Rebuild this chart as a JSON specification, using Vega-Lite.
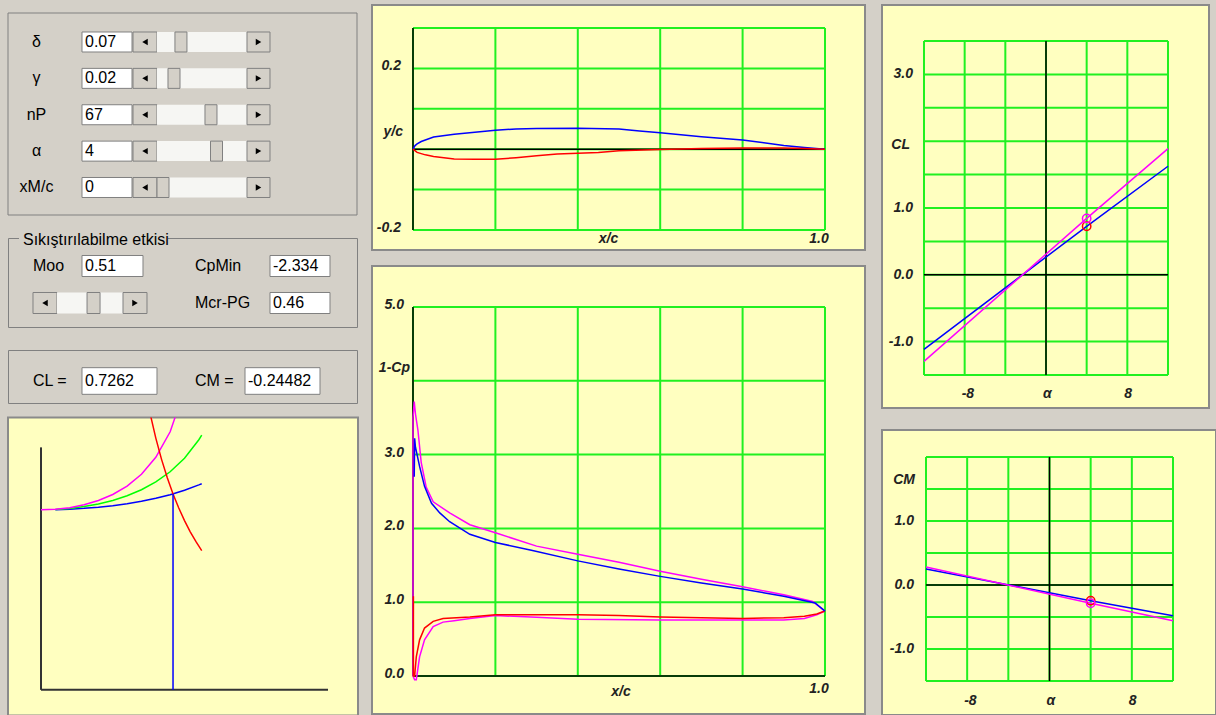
{
"$schema":"https://vega.github.io/schema/vega-lite/v6.json",
"background":"#d4d0c8",
"padding":{"left":7,"top":4,"right":0,"bottom":0},
"config":{"view":{"stroke":null},"axis":{"disable":true},"legend":{"disable":true},"text":{"font":"Liberation Sans"}},
"spacing":15,
"resolve":{"scale":{"color":"independent"}},
"hconcat":[
 {"spacing":12,"resolve":{"scale":{"color":"independent"}},"hconcat":[
  {"spacing":12.5,"resolve":{"scale":{"color":"independent"}},"vconcat":[
   {"spacing":23,"bounds":"flush","resolve":{"scale":{"color":"independent"}},"vconcat":[
     {"width":349,"height":210,
      "data":{"values":[
       {"param":"δ","value":"0.07","pos":0.23},
       {"param":"γ","value":"0.02","pos":0.141},
       {"param":"nP","value":"67","pos":0.615},
       {"param":"α","value":"4","pos":0.686},
       {"param":"xM/c","value":"0","pos":0}
      ]},
      "resolve":{"scale":{"y":"independent"}},
      "layer":[
       {"data":{"values":[{}]},
        "mark":{"type":"rect","fill":"transparent","stroke":"#808080","strokeWidth":1},
        "encoding":{"x":{"datum":-1.9872,"type":"quantitative","scale":{"domain":[-1.9872,2.4872],"nice":false,"zero":false}},"x2":{"datum":2.4872},"y":{"datum":0,"type":"quantitative","scale":{"domain":[0,1],"nice":false,"zero":false}},"y2":{"datum":0.9619}}},
       {"layer":[
       {"mark":{"type":"text","fontSize":16,"align":"center","baseline":"middle","color":"#000000"},
        "encoding":{"x":{"datum":-1.6218,"type":"quantitative","scale":{"domain":[-1.9872,2.4872],"nice":false,"zero":false}},"y":{"field":"param","type":"nominal","bandPosition":0.5,"scale":{"type":"band","domain":["δ","γ","nP","α","xM/c"],"paddingInner":0.4502,"paddingOuter":0.6117,"align":0.6067,"round":false}},"text":{"field":"param"}}},
       {"mark":{"type":"rect","fill":"#ffffff","stroke":"#808080","strokeWidth":1},
        "encoding":{"x":{"datum":-1.0385,"type":"quantitative","scale":{"domain":[-1.9872,2.4872],"nice":false,"zero":false}},"x2":{"datum":-0.3974},"y":{"field":"param","type":"nominal","scale":{"type":"band","domain":["δ","γ","nP","α","xM/c"],"paddingInner":0.4502,"paddingOuter":0.6117,"align":0.6067,"round":false}}}},
       {"mark":{"type":"text","fontSize":16,"align":"left","baseline":"middle","color":"#000000"},
        "encoding":{"x":{"datum":-1.0,"type":"quantitative","scale":{"domain":[-1.9872,2.4872],"nice":false,"zero":false}},"y":{"field":"param","type":"nominal","bandPosition":0.5,"scale":{"type":"band","domain":["δ","γ","nP","α","xM/c"],"paddingInner":0.4502,"paddingOuter":0.6117,"align":0.6067,"round":false}},"text":{"field":"value"}}},
       {"mark":{"type":"rect","fill":"#d4d0c8","stroke":"#808080","strokeWidth":1},
        "encoding":{"x":{"datum":-0.3846,"type":"quantitative","scale":{"domain":[-1.9872,2.4872],"nice":false,"zero":false}},"x2":{"datum":-0.0769},"y":{"field":"param","type":"nominal","scale":{"type":"band","domain":["δ","γ","nP","α","xM/c"],"paddingInner":0.4502,"paddingOuter":0.6117,"align":0.6067,"round":false}}}},
       {"mark":{"type":"rect","fill":"#f6f6f3"},
        "encoding":{"x":{"datum":-0.0769,"type":"quantitative","scale":{"domain":[-1.9872,2.4872],"nice":false,"zero":false}},"x2":{"datum":1.0769},"y":{"field":"param","type":"nominal","scale":{"type":"band","domain":["δ","γ","nP","α","xM/c"],"paddingInner":0.4502,"paddingOuter":0.6117,"align":0.6067,"round":false}}}},
       {"mark":{"type":"rect","fill":"#d4d0c8","stroke":"#808080","strokeWidth":1},
        "encoding":{"x":{"datum":1.0769,"type":"quantitative","scale":{"domain":[-1.9872,2.4872],"nice":false,"zero":false}},"x2":{"datum":1.3718},"y":{"field":"param","type":"nominal","scale":{"type":"band","domain":["δ","γ","nP","α","xM/c"],"paddingInner":0.4502,"paddingOuter":0.6117,"align":0.6067,"round":false}}}},
       {"mark":{"type":"rect","width":12,"fill":"#d4d0c8","stroke":"#808080","strokeWidth":1},
        "encoding":{"x":{"field":"pos","type":"quantitative","scale":{"domain":[-1.9872,2.4872],"nice":false,"zero":false}},"y":{"field":"param","type":"nominal","scale":{"type":"band","domain":["δ","γ","nP","α","xM/c"],"paddingInner":0.4502,"paddingOuter":0.6117,"align":0.6067,"round":false}}}},
       {"mark":{"type":"point","shape":"triangle-left","size":40,"filled":true,"color":"#000000","opacity":1},
        "encoding":{"x":{"datum":-0.2308,"type":"quantitative","scale":{"domain":[-1.9872,2.4872],"nice":false,"zero":false}},"y":{"field":"param","type":"nominal","bandPosition":0.5,"scale":{"type":"band","domain":["δ","γ","nP","α","xM/c"],"paddingInner":0.4502,"paddingOuter":0.6117,"align":0.6067,"round":false}}}},
       {"mark":{"type":"point","shape":"triangle-right","size":40,"filled":true,"color":"#000000","opacity":1},
        "encoding":{"x":{"datum":1.2244,"type":"quantitative","scale":{"domain":[-1.9872,2.4872],"nice":false,"zero":false}},"y":{"field":"param","type":"nominal","bandPosition":0.5,"scale":{"type":"band","domain":["δ","γ","nP","α","xM/c"],"paddingInner":0.4502,"paddingOuter":0.6117,"align":0.6067,"round":false}}}}
       ]}
      ]},
     {"width":349,"height":89,
      "view":{"stroke":"#808080","strokeWidth":1},
      "data":{"values":[{"name":"Moo","value":"0.51","Moo":0.51}]},
      "layer":[
       {"mark":{"type":"rect","fill":"#d4d0c8"},
        "encoding":{"x":{"datum":-0.7557,"type":"quantitative","scale":{"domain":[-0.9424,4.9839],"nice":false,"zero":false}},"x2":{"datum":1.7745},"y":{"datum":0.07,"type":"quantitative","scale":{"domain":[0.2432,2.6486],"reverse":true,"nice":false,"zero":false}},"y2":{"datum":0.52}}},
       {"mark":{"type":"text","fontSize":16,"align":"left","baseline":"middle","color":"#000000"},
        "encoding":{"x":{"datum":-0.688,"type":"quantitative","scale":{"domain":[-0.9424,4.9839],"nice":false,"zero":false}},"y":{"datum":0.2973,"type":"quantitative","scale":{"domain":[0.2432,2.6486],"reverse":true,"nice":false,"zero":false}},"text":{"value":"Sıkıştırılabilme etkisi"}}},
       {"mark":{"type":"text","fontSize":16,"align":"left","baseline":"middle","color":"#000000"},
        "encoding":{"x":{"datum":-0.5179,"type":"quantitative","scale":{"domain":[-0.9424,4.9839],"nice":false,"zero":false}},"y":{"datum":1,"type":"quantitative","scale":{"domain":[0.2432,2.6486],"reverse":true,"nice":false,"zero":false}},"text":{"field":"name"}}},
       {"mark":{"type":"rect","fill":"#ffffff","stroke":"#808080","strokeWidth":1},
        "encoding":{"x":{"datum":0.3141,"type":"quantitative","scale":{"domain":[-0.9424,4.9839],"nice":false,"zero":false}},"x2":{"datum":1.35},"y":{"datum":0.716,"type":"quantitative","scale":{"domain":[0.2432,2.6486],"reverse":true,"nice":false,"zero":false}},"y2":{"datum":1.284}}},
       {"mark":{"type":"text","fontSize":16,"align":"left","baseline":"middle","color":"#000000"},
        "encoding":{"x":{"datum":0.3651,"type":"quantitative","scale":{"domain":[-0.9424,4.9839],"nice":false,"zero":false}},"y":{"datum":1,"type":"quantitative","scale":{"domain":[0.2432,2.6486],"reverse":true,"nice":false,"zero":false}},"text":{"field":"value"}}},
       {"mark":{"type":"rect","fill":"#d4d0c8","stroke":"#808080","strokeWidth":1},
        "encoding":{"x":{"datum":-0.5179,"type":"quantitative","scale":{"domain":[-0.9424,4.9839],"nice":false,"zero":false}},"x2":{"datum":-0.1104},"y":{"datum":1.716,"type":"quantitative","scale":{"domain":[0.2432,2.6486],"reverse":true,"nice":false,"zero":false}},"y2":{"datum":2.284}}},
       {"mark":{"type":"rect","fill":"#f6f6f3"},
        "encoding":{"x":{"datum":-0.1104,"type":"quantitative","scale":{"domain":[-0.9424,4.9839],"nice":false,"zero":false}},"x2":{"datum":1.0104},"y":{"datum":1.716,"type":"quantitative","scale":{"domain":[0.2432,2.6486],"reverse":true,"nice":false,"zero":false}},"y2":{"datum":2.284}}},
       {"mark":{"type":"rect","fill":"#d4d0c8","stroke":"#808080","strokeWidth":1},
        "encoding":{"x":{"datum":1.0104,"type":"quantitative","scale":{"domain":[-0.9424,4.9839],"nice":false,"zero":false}},"x2":{"datum":1.4179},"y":{"datum":1.716,"type":"quantitative","scale":{"domain":[0.2432,2.6486],"reverse":true,"nice":false,"zero":false}},"y2":{"datum":2.284}}},
       {"mark":{"type":"rect","width":13,"fill":"#d4d0c8","stroke":"#808080","strokeWidth":1},
        "encoding":{"x":{"field":"Moo","type":"quantitative","scale":{"domain":[-0.9424,4.9839],"nice":false,"zero":false}},"y":{"datum":1.716,"type":"quantitative","scale":{"domain":[0.2432,2.6486],"reverse":true,"nice":false,"zero":false}},"y2":{"datum":2.284}}},
       {"mark":{"type":"point","shape":"triangle-left","size":40,"filled":true,"color":"#000000","opacity":1},
        "encoding":{"x":{"datum":-0.3141,"type":"quantitative","scale":{"domain":[-0.9424,4.9839],"nice":false,"zero":false}},"y":{"datum":2,"type":"quantitative","scale":{"domain":[0.2432,2.6486],"reverse":true,"nice":false,"zero":false}}}},
       {"mark":{"type":"point","shape":"triangle-right","size":40,"filled":true,"color":"#000000","opacity":1},
        "encoding":{"x":{"datum":1.2141,"type":"quantitative","scale":{"domain":[-0.9424,4.9839],"nice":false,"zero":false}},"y":{"datum":2,"type":"quantitative","scale":{"domain":[0.2432,2.6486],"reverse":true,"nice":false,"zero":false}}}},
       {"data":{"values":[{"name":"CpMin","value":"-2.334"}]},
        "layer":[
         {"mark":{"type":"text","fontSize":16,"align":"left","baseline":"middle","color":"#000000"},
          "encoding":{"x":{"datum":2.233,"type":"quantitative","scale":{"domain":[-0.9424,4.9839],"nice":false,"zero":false}},"y":{"datum":1,"type":"quantitative","scale":{"domain":[0.2432,2.6486],"reverse":true,"nice":false,"zero":false}},"text":{"field":"name"}}},
         {"mark":{"type":"rect","fill":"#ffffff","stroke":"#808080","strokeWidth":1},
          "encoding":{"x":{"datum":3.5065,"type":"quantitative","scale":{"domain":[-0.9424,4.9839],"nice":false,"zero":false}},"x2":{"datum":4.5253},"y":{"datum":0.716,"type":"quantitative","scale":{"domain":[0.2432,2.6486],"reverse":true,"nice":false,"zero":false}},"y2":{"datum":1.284}}},
         {"mark":{"type":"text","fontSize":16,"align":"left","baseline":"middle","color":"#000000"},
          "encoding":{"x":{"datum":3.5575,"type":"quantitative","scale":{"domain":[-0.9424,4.9839],"nice":false,"zero":false}},"y":{"datum":1,"type":"quantitative","scale":{"domain":[0.2432,2.6486],"reverse":true,"nice":false,"zero":false}},"text":{"field":"value"}}}
        ]},
       {"data":{"values":[{"name":"Mcr-PG","value":"0.46"}]},
        "layer":[
         {"mark":{"type":"text","fontSize":16,"align":"left","baseline":"middle","color":"#000000"},
          "encoding":{"x":{"datum":2.233,"type":"quantitative","scale":{"domain":[-0.9424,4.9839],"nice":false,"zero":false}},"y":{"datum":2,"type":"quantitative","scale":{"domain":[0.2432,2.6486],"reverse":true,"nice":false,"zero":false}},"text":{"field":"name"}}},
         {"mark":{"type":"rect","fill":"#ffffff","stroke":"#808080","strokeWidth":1},
          "encoding":{"x":{"datum":3.5065,"type":"quantitative","scale":{"domain":[-0.9424,4.9839],"nice":false,"zero":false}},"x2":{"datum":4.5253},"y":{"datum":1.716,"type":"quantitative","scale":{"domain":[0.2432,2.6486],"reverse":true,"nice":false,"zero":false}},"y2":{"datum":2.284}}},
         {"mark":{"type":"text","fontSize":16,"align":"left","baseline":"middle","color":"#000000"},
          "encoding":{"x":{"datum":3.5575,"type":"quantitative","scale":{"domain":[-0.9424,4.9839],"nice":false,"zero":false}},"y":{"datum":2,"type":"quantitative","scale":{"domain":[0.2432,2.6486],"reverse":true,"nice":false,"zero":false}},"text":{"field":"value"}}}
        ]}
      ]},
     {"width":349,"height":53,
      "view":{"stroke":"#808080","strokeWidth":1},
      "layer":[
       {"data":{"values":[{"name":"CL =","value":"0.7262"}]},
        "layer":[
         {"mark":{"type":"text","fontSize":16,"align":"left","baseline":"middle","color":"#000000"},
          "encoding":{"x":{"datum":-0.5179,"type":"quantitative","scale":{"domain":[-0.9424,4.9839],"nice":false,"zero":false}},"y":{"datum":1,"type":"quantitative","scale":{"domain":[0.1622,1.5946],"reverse":true,"nice":false,"zero":false}},"text":{"field":"name"}}},
         {"mark":{"type":"rect","fill":"#ffffff","stroke":"#808080","strokeWidth":1},
          "encoding":{"x":{"datum":0.3141,"type":"quantitative","scale":{"domain":[-0.9424,4.9839],"nice":false,"zero":false}},"x2":{"datum":1.5877},"y":{"datum":0.64,"type":"quantitative","scale":{"domain":[0.1622,1.5946],"reverse":true,"nice":false,"zero":false}},"y2":{"datum":1.36}}},
         {"mark":{"type":"text","fontSize":16,"align":"left","baseline":"middle","color":"#000000"},
          "encoding":{"x":{"datum":0.3651,"type":"quantitative","scale":{"domain":[-0.9424,4.9839],"nice":false,"zero":false}},"y":{"datum":1,"type":"quantitative","scale":{"domain":[0.1622,1.5946],"reverse":true,"nice":false,"zero":false}},"text":{"field":"value"}}}
        ]},
       {"data":{"values":[{"name":"CM =","value":"-0.24482"}]},
        "layer":[
         {"mark":{"type":"text","fontSize":16,"align":"left","baseline":"middle","color":"#000000"},
          "encoding":{"x":{"datum":2.233,"type":"quantitative","scale":{"domain":[-0.9424,4.9839],"nice":false,"zero":false}},"y":{"datum":1,"type":"quantitative","scale":{"domain":[0.1622,1.5946],"reverse":true,"nice":false,"zero":false}},"text":{"field":"name"}}},
         {"mark":{"type":"rect","fill":"#ffffff","stroke":"#808080","strokeWidth":1},
          "encoding":{"x":{"datum":3.0823,"type":"quantitative","scale":{"domain":[-0.9424,4.9839],"nice":false,"zero":false}},"x2":{"datum":4.3558},"y":{"datum":0.64,"type":"quantitative","scale":{"domain":[0.1622,1.5946],"reverse":true,"nice":false,"zero":false}},"y2":{"datum":1.36}}},
         {"mark":{"type":"text","fontSize":16,"align":"left","baseline":"middle","color":"#000000"},
          "encoding":{"x":{"datum":3.1332,"type":"quantitative","scale":{"domain":[-0.9424,4.9839],"nice":false,"zero":false}},"y":{"datum":1,"type":"quantitative","scale":{"domain":[0.1622,1.5946],"reverse":true,"nice":false,"zero":false}},"text":{"field":"value"}}}
        ]}
      ]}
   ]},
   {"width":350,"height":298,
    "view":{"fill":"#ffffc0","stroke":"#8a8a8a","strokeWidth":2},
    "layer":[
     {"data":{"values":[{"g":0}]},"mark":{"type":"rule","color":"#333333","strokeWidth":2},
      "encoding":{"x":{"field":"g","type":"quantitative","scale":{"domain":[-0.115,1.1045],"nice":false,"zero":false}},"y":{"datum":-1,"type":"quantitative","scale":{"domain":[-1.475,4.043],"nice":false,"zero":false}},"y2":{"datum":3.49}}},
     {"data":{"values":[{"g":-1}]},"mark":{"type":"rule","color":"#333333","strokeWidth":2},
      "encoding":{"y":{"field":"g","type":"quantitative","scale":{"domain":[-1.475,4.043],"nice":false,"zero":false}},"x":{"datum":0,"type":"quantitative","scale":{"domain":[-0.115,1.1045],"nice":false,"zero":false}},"x2":{"datum":1}}},
     {"data":{"values":[
       {"curve":"Prandtl-Glauert","M":0.05,"cp":2.337},{"curve":"Prandtl-Glauert","M":0.1,"cp":2.346},{"curve":"Prandtl-Glauert","M":0.15,"cp":2.361},{"curve":"Prandtl-Glauert","M":0.2,"cp":2.382},{"curve":"Prandtl-Glauert","M":0.25,"cp":2.411},{"curve":"Prandtl-Glauert","M":0.3,"cp":2.447},{"curve":"Prandtl-Glauert","M":0.35,"cp":2.492},{"curve":"Prandtl-Glauert","M":0.4,"cp":2.547},{"curve":"Prandtl-Glauert","M":0.45,"cp":2.614},{"curve":"Prandtl-Glauert","M":0.5,"cp":2.695},{"curve":"Prandtl-Glauert","M":0.55,"cp":2.795},{"curve":"Prandtl-Glauert","M":0.56,"cp":2.817},
       {"curve":"Karman-Tsien","M":0.05,"cp":2.340},{"curve":"Karman-Tsien","M":0.1,"cp":2.360},{"curve":"Karman-Tsien","M":0.15,"cp":2.393},{"curve":"Karman-Tsien","M":0.2,"cp":2.441},{"curve":"Karman-Tsien","M":0.25,"cp":2.507},{"curve":"Karman-Tsien","M":0.3,"cp":2.593},{"curve":"Karman-Tsien","M":0.35,"cp":2.705},{"curve":"Karman-Tsien","M":0.4,"cp":2.850},{"curve":"Karman-Tsien","M":0.45,"cp":3.038},{"curve":"Karman-Tsien","M":0.5,"cp":3.289},{"curve":"Karman-Tsien","M":0.55,"cp":3.631},{"curve":"Karman-Tsien","M":0.56,"cp":3.715},
       {"curve":"Laitone","M":0,"cp":2.334},{"curve":"Laitone","M":0.05,"cp":2.344},{"curve":"Laitone","M":0.1,"cp":2.374},{"curve":"Laitone","M":0.15,"cp":2.426},{"curve":"Laitone","M":0.2,"cp":2.505},{"curve":"Laitone","M":0.25,"cp":2.617},{"curve":"Laitone","M":0.3,"cp":2.772},{"curve":"Laitone","M":0.35,"cp":2.991},{"curve":"Laitone","M":0.4,"cp":3.305},{"curve":"Laitone","M":0.45,"cp":3.779},{"curve":"Laitone","M":0.5,"cp":4.556},
       {"curve":"Cp*","M":0.35,"cp":4.957},{"curve":"Cp*","M":0.38,"cp":4.119},{"curve":"Cp*","M":0.4,"cp":3.662},{"curve":"Cp*","M":0.42,"cp":3.268},{"curve":"Cp*","M":0.44,"cp":2.927},{"curve":"Cp*","M":0.46,"cp":2.628},{"curve":"Cp*","M":0.48,"cp":2.366},{"curve":"Cp*","M":0.5,"cp":2.134},{"curve":"Cp*","M":0.52,"cp":1.927},{"curve":"Cp*","M":0.54,"cp":1.743},{"curve":"Cp*","M":0.56,"cp":1.578}
      ]},
      "mark":{"type":"line","strokeWidth":1.5,"clip":true},
      "encoding":{"x":{"field":"M","type":"quantitative","scale":{"domain":[-0.115,1.1045],"nice":false,"zero":false}},"y":{"field":"cp","type":"quantitative","scale":{"domain":[-1.475,4.043],"nice":false,"zero":false}},"color":{"field":"curve","type":"nominal","scale":{"domain":["Laitone","Karman-Tsien","Prandtl-Glauert","Cp*"],"range":["#ff00ff","#00ff00","#0000ff","#ff0000"]}}}},
     {"data":{"values":[{"M":0.46,"cp":2.628}]},"mark":{"type":"rule","color":"#0000ff","strokeWidth":1.5},
      "encoding":{"x":{"field":"M","type":"quantitative","scale":{"domain":[-0.115,1.1045],"nice":false,"zero":false}},"y":{"field":"cp","type":"quantitative","scale":{"domain":[-1.475,4.043],"nice":false,"zero":false}},"y2":{"datum":-1}}}
    ]}
  ]},
  {"spacing":16,"bounds":"flush","resolve":{"scale":{"color":"independent"}},"vconcat":[
   {"width":493,"height":245,
    "view":{"fill":"#ffffc0","stroke":"#8a8a8a","strokeWidth":2},
    "layer":[
     {"data":{"values":[{"g":0},{"g":0.2},{"g":0.4},{"g":0.6},{"g":0.8},{"g":1.0}]},"mark":{"type":"rule","color":"#20f020","strokeWidth":2},
      "encoding":{"x":{"field":"g","type":"quantitative","scale":{"domain":[-0.0995,1.0971],"nice":false,"zero":false}},"y":{"datum":-0.2,"type":"quantitative","scale":{"domain":[-0.2495,0.3569],"nice":false,"zero":false}},"y2":{"datum":0.3}}},
     {"data":{"values":[{"g":-0.2},{"g":-0.1},{"g":0},{"g":0.1},{"g":0.2},{"g":0.3}]},"mark":{"type":"rule","color":"#20f020","strokeWidth":2},
      "encoding":{"y":{"field":"g","type":"quantitative","scale":{"domain":[-0.2495,0.3569],"nice":false,"zero":false}},"x":{"datum":0,"type":"quantitative","scale":{"domain":[-0.0995,1.0971],"nice":false,"zero":false}},"x2":{"datum":1}}},
     {"data":{"values":[{"g":0}]},"mark":{"type":"rule","color":"#000000","strokeWidth":1.5},
      "encoding":{"x":{"field":"g","type":"quantitative","scale":{"domain":[-0.0995,1.0971],"nice":false,"zero":false}},"y":{"datum":-0.2,"type":"quantitative","scale":{"domain":[-0.2495,0.3569],"nice":false,"zero":false}},"y2":{"datum":0.3}}},
     {"data":{"values":[{"g":0}]},"mark":{"type":"rule","color":"#000000","strokeWidth":1.5},
      "encoding":{"y":{"field":"g","type":"quantitative","scale":{"domain":[-0.2495,0.3569],"nice":false,"zero":false}},"x":{"datum":0,"type":"quantitative","scale":{"domain":[-0.0995,1.0971],"nice":false,"zero":false}},"x2":{"datum":1}}},
     {"data":{"values":[
       {"surface":"upper","x":0,"y":0},{"surface":"upper","x":0.005,"y":0.009},{"surface":"upper","x":0.01,"y":0.013},{"surface":"upper","x":0.02,"y":0.019},{"surface":"upper","x":0.05,"y":0.030},{"surface":"upper","x":0.1,"y":0.037},{"surface":"upper","x":0.15,"y":0.042},{"surface":"upper","x":0.2,"y":0.047},{"surface":"upper","x":0.25,"y":0.050},{"surface":"upper","x":0.3,"y":0.051},{"surface":"upper","x":0.4,"y":0.052},{"surface":"upper","x":0.5,"y":0.050},{"surface":"upper","x":0.55,"y":0.045},{"surface":"upper","x":0.6,"y":0.041},{"surface":"upper","x":0.7,"y":0.031},{"surface":"upper","x":0.8,"y":0.023},{"surface":"upper","x":0.9,"y":0.009},{"surface":"upper","x":0.95,"y":0.004},{"surface":"upper","x":1.0,"y":0},
       {"surface":"lower","x":0,"y":0},{"surface":"lower","x":0.01,"y":-0.008},{"surface":"lower","x":0.03,"y":-0.014},{"surface":"lower","x":0.05,"y":-0.018},{"surface":"lower","x":0.1,"y":-0.024},{"surface":"lower","x":0.15,"y":-0.025},{"surface":"lower","x":0.2,"y":-0.025},{"surface":"lower","x":0.25,"y":-0.021},{"surface":"lower","x":0.3,"y":-0.016},{"surface":"lower","x":0.35,"y":-0.012},{"surface":"lower","x":0.4,"y":-0.010},{"surface":"lower","x":0.45,"y":-0.008},{"surface":"lower","x":0.5,"y":-0.004},{"surface":"lower","x":0.6,"y":-0.001},{"surface":"lower","x":0.7,"y":0.002},{"surface":"lower","x":0.8,"y":0.003},{"surface":"lower","x":0.9,"y":0.003},{"surface":"lower","x":0.95,"y":0.002},{"surface":"lower","x":1.0,"y":0}
      ]},
      "mark":{"type":"line","strokeWidth":1.5,"clip":true},
      "encoding":{"x":{"field":"x","type":"quantitative","scale":{"domain":[-0.0995,1.0971],"nice":false,"zero":false}},"y":{"field":"y","type":"quantitative","scale":{"domain":[-0.2495,0.3569],"nice":false,"zero":false}},"color":{"field":"surface","type":"nominal","scale":{"domain":["upper","lower"],"range":["#0000ff","#ff0000"]}}}},
     {"data":{"values":[{"v":0.2,"label":"0.2"},{"v":-0.2,"label":"-0.2"}]},
      "mark":{"type":"text","fontSize":14,"fontStyle":"italic","fontWeight":"bold","color":"#222222","align":"right","baseline":"middle","dx":-12,"dy":-2},
      "encoding":{"x":{"datum":0,"type":"quantitative","scale":{"domain":[-0.0995,1.0971],"nice":false,"zero":false}},"y":{"field":"v","type":"quantitative","scale":{"domain":[-0.2495,0.3569],"nice":false,"zero":false}},"text":{"field":"label"}}},
     {"data":{"values":[{"label":"y/c"}]},
      "mark":{"type":"text","fontSize":14,"fontStyle":"italic","fontWeight":"bold","color":"#222222","align":"right","baseline":"middle","dx":-10},
      "encoding":{"x":{"datum":0,"type":"quantitative","scale":{"domain":[-0.0995,1.0971],"nice":false,"zero":false}},"y":{"datum":0.0433,"type":"quantitative","scale":{"domain":[-0.2495,0.3569],"nice":false,"zero":false}},"text":{"field":"label"}}},
     {"data":{"values":[{"label":"x/c"}]},
      "mark":{"type":"text","fontSize":14,"fontStyle":"italic","fontWeight":"bold","color":"#222222","align":"center","baseline":"middle"},
      "encoding":{"x":{"datum":0.4745,"type":"quantitative","scale":{"domain":[-0.0995,1.0971],"nice":false,"zero":false}},"y":{"datum":-0.2223,"type":"quantitative","scale":{"domain":[-0.2495,0.3569],"nice":false,"zero":false}},"text":{"field":"label"}}},
     {"data":{"values":[{"v":1.0,"label":"1.0"}]},
      "mark":{"type":"text","fontSize":14,"fontStyle":"italic","fontWeight":"bold","color":"#222222","align":"center","baseline":"middle","dx":-6},
      "encoding":{"x":{"field":"v","type":"quantitative","scale":{"domain":[-0.0995,1.0971],"nice":false,"zero":false}},"y":{"datum":-0.2223,"type":"quantitative","scale":{"domain":[-0.2495,0.3569],"nice":false,"zero":false}},"text":{"field":"label"}}}
    ]},
   {"width":493,"height":448,
    "view":{"fill":"#ffffc0","stroke":"#8a8a8a","strokeWidth":2},
    "layer":[
     {"data":{"values":[{"g":0},{"g":0.2},{"g":0.4},{"g":0.6},{"g":0.8},{"g":1.0}]},"mark":{"type":"rule","color":"#20f020","strokeWidth":2},
      "encoding":{"x":{"field":"g","type":"quantitative","scale":{"domain":[-0.0995,1.0971],"nice":false,"zero":false}},"y":{"datum":0,"type":"quantitative","scale":{"domain":[-0.5149,5.5556],"nice":false,"zero":false}},"y2":{"datum":5}}},
     {"data":{"values":[{"g":0},{"g":1},{"g":2},{"g":3},{"g":4},{"g":5}]},"mark":{"type":"rule","color":"#20f020","strokeWidth":2},
      "encoding":{"y":{"field":"g","type":"quantitative","scale":{"domain":[-0.5149,5.5556],"nice":false,"zero":false}},"x":{"datum":0,"type":"quantitative","scale":{"domain":[-0.0995,1.0971],"nice":false,"zero":false}},"x2":{"datum":1}}},
     {"data":{"values":[{"g":0}]},"mark":{"type":"rule","color":"#000000","strokeWidth":1.5},
      "encoding":{"x":{"field":"g","type":"quantitative","scale":{"domain":[-0.0995,1.0971],"nice":false,"zero":false}},"y":{"datum":0,"type":"quantitative","scale":{"domain":[-0.5149,5.5556],"nice":false,"zero":false}},"y2":{"datum":5}}},
     {"data":{"values":[{"g":0}]},"mark":{"type":"rule","color":"#000000","strokeWidth":1.5},
      "encoding":{"y":{"field":"g","type":"quantitative","scale":{"domain":[-0.5149,5.5556],"nice":false,"zero":false}},"x":{"datum":0,"type":"quantitative","scale":{"domain":[-0.0995,1.0971],"nice":false,"zero":false}},"x2":{"datum":1}}},
     {"data":{"values":[
       {"s":"compressible","i":0,"x":1.0,"cp":0.88},{"s":"compressible","i":1,"x":0.98,"cp":0.83},{"s":"compressible","i":2,"x":0.95,"cp":0.78},{"s":"compressible","i":3,"x":0.9,"cp":0.76},{"s":"compressible","i":4,"x":0.8,"cp":0.76},{"s":"compressible","i":5,"x":0.6,"cp":0.76},{"s":"compressible","i":6,"x":0.4,"cp":0.77},{"s":"compressible","i":7,"x":0.3,"cp":0.795},{"s":"compressible","i":8,"x":0.2,"cp":0.82},{"s":"compressible","i":9,"x":0.138,"cp":0.78},{"s":"compressible","i":10,"x":0.1,"cp":0.75},{"s":"compressible","i":11,"x":0.073,"cp":0.73},{"s":"compressible","i":12,"x":0.049,"cp":0.67},{"s":"compressible","i":13,"x":0.028,"cp":0.49},{"s":"compressible","i":14,"x":0.016,"cp":0.26},{"s":"compressible","i":15,"x":0.008,"cp":-0.05},{"s":"compressible","i":16,"x":0.004,"cp":-0.05},{"s":"compressible","i":17,"x":0.0,"cp":0.0},{"s":"compressible","i":18,"x":0.0,"cp":3.5},{"s":"compressible","i":19,"x":0.003,"cp":3.72},{"s":"compressible","i":20,"x":0.006,"cp":3.55},{"s":"compressible","i":21,"x":0.012,"cp":3.33},{"s":"compressible","i":22,"x":0.02,"cp":2.89},{"s":"compressible","i":23,"x":0.032,"cp":2.56},{"s":"compressible","i":24,"x":0.049,"cp":2.36},{"s":"compressible","i":25,"x":0.089,"cp":2.21},{"s":"compressible","i":26,"x":0.138,"cp":2.05},{"s":"compressible","i":27,"x":0.2,"cp":1.94},{"s":"compressible","i":28,"x":0.3,"cp":1.76},{"s":"compressible","i":29,"x":0.4,"cp":1.65},{"s":"compressible","i":30,"x":0.5,"cp":1.54},{"s":"compressible","i":31,"x":0.6,"cp":1.42},{"s":"compressible","i":32,"x":0.7,"cp":1.31},{"s":"compressible","i":33,"x":0.8,"cp":1.21},{"s":"compressible","i":34,"x":0.9,"cp":1.10},{"s":"compressible","i":35,"x":0.97,"cp":1.01},{"s":"compressible","i":36,"x":1.0,"cp":0.88},
       {"s":"lower","i":0,"x":0.001,"cp":1.08},{"s":"lower","i":1,"x":0.001,"cp":0.0},{"s":"lower","i":2,"x":0.004,"cp":0.0},{"s":"lower","i":3,"x":0.008,"cp":0.26},{"s":"lower","i":4,"x":0.016,"cp":0.49},{"s":"lower","i":5,"x":0.028,"cp":0.65},{"s":"lower","i":6,"x":0.049,"cp":0.74},{"s":"lower","i":7,"x":0.073,"cp":0.78},{"s":"lower","i":8,"x":0.138,"cp":0.80},{"s":"lower","i":9,"x":0.2,"cp":0.83},{"s":"lower","i":10,"x":0.3,"cp":0.83},{"s":"lower","i":11,"x":0.4,"cp":0.83},{"s":"lower","i":12,"x":0.5,"cp":0.82},{"s":"lower","i":13,"x":0.6,"cp":0.80},{"s":"lower","i":14,"x":0.7,"cp":0.79},{"s":"lower","i":15,"x":0.8,"cp":0.78},{"s":"lower","i":16,"x":0.9,"cp":0.79},{"s":"lower","i":17,"x":0.95,"cp":0.81},{"s":"lower","i":18,"x":0.98,"cp":0.84},{"s":"lower","i":19,"x":1.0,"cp":0.88},
       {"s":"upper","i":0,"x":0.003,"cp":2.70},{"s":"upper","i":1,"x":0.004,"cp":3.22},{"s":"upper","i":2,"x":0.006,"cp":3.10},{"s":"upper","i":3,"x":0.016,"cp":2.84},{"s":"upper","i":4,"x":0.028,"cp":2.57},{"s":"upper","i":5,"x":0.045,"cp":2.34},{"s":"upper","i":6,"x":0.065,"cp":2.21},{"s":"upper","i":7,"x":0.089,"cp":2.09},{"s":"upper","i":8,"x":0.138,"cp":1.92},{"s":"upper","i":9,"x":0.2,"cp":1.81},{"s":"upper","i":10,"x":0.29,"cp":1.70},{"s":"upper","i":11,"x":0.4,"cp":1.56},{"s":"upper","i":12,"x":0.5,"cp":1.45},{"s":"upper","i":13,"x":0.6,"cp":1.35},{"s":"upper","i":14,"x":0.7,"cp":1.26},{"s":"upper","i":15,"x":0.8,"cp":1.18},{"s":"upper","i":16,"x":0.9,"cp":1.08},{"s":"upper","i":17,"x":0.976,"cp":0.99},{"s":"upper","i":18,"x":1.0,"cp":0.88}
      ]},
      "mark":{"type":"line","strokeWidth":1.5,"clip":true},
      "encoding":{"x":{"field":"x","type":"quantitative","scale":{"domain":[-0.0995,1.0971],"nice":false,"zero":false}},"y":{"field":"cp","type":"quantitative","scale":{"domain":[-0.5149,5.5556],"nice":false,"zero":false}},"order":{"field":"i","type":"quantitative"},"color":{"field":"s","type":"nominal","scale":{"domain":["compressible","lower","upper"],"range":["#ff00ff","#ff0000","#0000ff"]}}}},
     {"data":{"values":[{"v":5,"label":"5.0"},{"v":3,"label":"3.0"},{"v":2,"label":"2.0"},{"v":1,"label":"1.0"},{"v":0,"label":"0.0"}]},
      "mark":{"type":"text","fontSize":14,"fontStyle":"italic","fontWeight":"bold","color":"#222222","align":"right","baseline":"middle","dx":-9,"dy":-2},
      "encoding":{"x":{"datum":0,"type":"quantitative","scale":{"domain":[-0.0995,1.0971],"nice":false,"zero":false}},"y":{"field":"v","type":"quantitative","scale":{"domain":[-0.5149,5.5556],"nice":false,"zero":false}},"text":{"field":"label"}}},
     {"data":{"values":[{"label":"1-Cp"}]},
      "mark":{"type":"text","fontSize":14,"fontStyle":"italic","fontWeight":"bold","color":"#222222","align":"right","baseline":"middle","dx":-3},
      "encoding":{"x":{"datum":0,"type":"quantitative","scale":{"domain":[-0.0995,1.0971],"nice":false,"zero":false}},"y":{"datum":4.17,"type":"quantitative","scale":{"domain":[-0.5149,5.5556],"nice":false,"zero":false}},"text":{"field":"label"}}},
     {"data":{"values":[{"label":"x/c"}]},
      "mark":{"type":"text","fontSize":14,"fontStyle":"italic","fontWeight":"bold","color":"#222222","align":"center","baseline":"middle"},
      "encoding":{"x":{"datum":0.505,"type":"quantitative","scale":{"domain":[-0.0995,1.0971],"nice":false,"zero":false}},"y":{"datum":-0.217,"type":"quantitative","scale":{"domain":[-0.5149,5.5556],"nice":false,"zero":false}},"text":{"field":"label"}}},
     {"data":{"values":[{"v":1.0,"label":"1.0"}]},
      "mark":{"type":"text","fontSize":14,"fontStyle":"italic","fontWeight":"bold","color":"#222222","align":"center","baseline":"middle","dx":-6},
      "encoding":{"x":{"field":"v","type":"quantitative","scale":{"domain":[-0.0995,1.0971],"nice":false,"zero":false}},"y":{"datum":-0.176,"type":"quantitative","scale":{"domain":[-0.5149,5.5556],"nice":false,"zero":false}},"text":{"field":"label"}}}
    ]}
  ]}
 ]},
 {"spacing":22,"bounds":"flush","resolve":{"scale":{"color":"independent"}},"vconcat":[
  {"width":327,"height":403,
   "view":{"fill":"#ffffc0","stroke":"#8a8a8a","strokeWidth":2},
   "layer":[
    {"data":{"values":[{"g":-12},{"g":-8},{"g":-4},{"g":0},{"g":4},{"g":8},{"g":12}]},"mark":{"type":"rule","color":"#20f020","strokeWidth":2},
     "encoding":{"x":{"field":"g","type":"quantitative","scale":{"domain":[-16.131,16.033],"nice":false,"zero":false}},"y":{"datum":-1.5,"type":"quantitative","scale":{"domain":[-1.994,4.0389],"nice":false,"zero":false}},"y2":{"datum":3.5}}},
    {"data":{"values":[{"g":-1.5},{"g":-1.0},{"g":-0.5},{"g":0},{"g":0.5},{"g":1.0},{"g":1.5},{"g":2.0},{"g":2.5},{"g":3.0},{"g":3.5}]},"mark":{"type":"rule","color":"#20f020","strokeWidth":2},
     "encoding":{"y":{"field":"g","type":"quantitative","scale":{"domain":[-1.994,4.0389],"nice":false,"zero":false}},"x":{"datum":-12,"type":"quantitative","scale":{"domain":[-16.131,16.033],"nice":false,"zero":false}},"x2":{"datum":12}}},
    {"data":{"values":[{"g":0}]},"mark":{"type":"rule","color":"#000000","strokeWidth":1.5},
     "encoding":{"x":{"field":"g","type":"quantitative","scale":{"domain":[-16.131,16.033],"nice":false,"zero":false}},"y":{"datum":-1.5,"type":"quantitative","scale":{"domain":[-1.994,4.0389],"nice":false,"zero":false}},"y2":{"datum":3.5}}},
    {"data":{"values":[{"g":0}]},"mark":{"type":"rule","color":"#000000","strokeWidth":1.5},
     "encoding":{"y":{"field":"g","type":"quantitative","scale":{"domain":[-1.994,4.0389],"nice":false,"zero":false}},"x":{"datum":-12,"type":"quantitative","scale":{"domain":[-16.131,16.033],"nice":false,"zero":false}},"x2":{"datum":12}}},
    {"data":{"values":[
      {"s":"incompressible","a":-12,"v":-1.115},{"s":"incompressible","a":4,"v":0.726},{"s":"incompressible","a":12,"v":1.625},
      {"s":"compressible","a":-12,"v":-1.296},{"s":"compressible","a":4,"v":0.844},{"s":"compressible","a":12,"v":1.889}
     ]},
     "mark":{"type":"line","strokeWidth":1.5,"clip":true},
     "encoding":{"x":{"field":"a","type":"quantitative","scale":{"domain":[-16.131,16.033],"nice":false,"zero":false}},"y":{"field":"v","type":"quantitative","scale":{"domain":[-1.994,4.0389],"nice":false,"zero":false}},"color":{"field":"s","type":"nominal","scale":{"domain":["incompressible","compressible","current","current-PG"],"range":["#0000ff","#ff00ff","#ff0000","#ff00ff"]}}}},
    {"data":{"values":[{"s":"current","a":4,"v":0.7262},{"s":"current-PG","a":4,"v":0.844}]},
     "mark":{"type":"point","shape":"circle","filled":false,"size":70,"strokeWidth":1.5,"opacity":1},
     "encoding":{"x":{"field":"a","type":"quantitative","scale":{"domain":[-16.131,16.033],"nice":false,"zero":false}},"y":{"field":"v","type":"quantitative","scale":{"domain":[-1.994,4.0389],"nice":false,"zero":false}},"color":{"field":"s","type":"nominal","scale":{"domain":["incompressible","compressible","current","current-PG"],"range":["#0000ff","#ff00ff","#ff0000","#ff00ff"]}}}},
    {"data":{"values":[{"v":3.0,"label":"3.0"},{"v":1.0,"label":"1.0"},{"v":0.0,"label":"0.0"},{"v":-1.0,"label":"-1.0"}]},
     "mark":{"type":"text","fontSize":14,"fontStyle":"italic","fontWeight":"bold","color":"#222222","align":"right","baseline":"middle","dx":-11},
     "encoding":{"x":{"datum":-12,"type":"quantitative","scale":{"domain":[-16.131,16.033],"nice":false,"zero":false}},"y":{"field":"v","type":"quantitative","scale":{"domain":[-1.994,4.0389],"nice":false,"zero":false}},"text":{"field":"label"}}},
    {"data":{"values":[{"label":"CL"}]},
     "mark":{"type":"text","fontSize":14,"fontStyle":"italic","fontWeight":"bold","color":"#222222","align":"right","baseline":"middle","dx":-14},
     "encoding":{"x":{"datum":-12,"type":"quantitative","scale":{"domain":[-16.131,16.033],"nice":false,"zero":false}},"y":{"datum":1.943,"type":"quantitative","scale":{"domain":[-1.994,4.0389],"nice":false,"zero":false}},"text":{"field":"label"}}},
    {"data":{"values":[{"v":-8,"label":"-8"},{"v":0,"label":"α"},{"v":8,"label":"8"}]},
     "mark":{"type":"text","fontSize":14,"fontStyle":"italic","fontWeight":"bold","color":"#222222","align":"left","baseline":"middle","dx":-3},
     "encoding":{"x":{"field":"v","type":"quantitative","scale":{"domain":[-16.131,16.033],"nice":false,"zero":false}},"y":{"datum":-1.784,"type":"quantitative","scale":{"domain":[-1.994,4.0389],"nice":false,"zero":false}},"text":{"field":"label"}}}
   ]},
  {"width":334,"height":285,
   "view":{"fill":"#ffffc0","stroke":"#8a8a8a","strokeWidth":2},
   "layer":[
    {"data":{"values":[{"g":-12},{"g":-8},{"g":-4},{"g":0},{"g":4},{"g":8},{"g":12}]},"mark":{"type":"rule","color":"#20f020","strokeWidth":2},
     "encoding":{"x":{"field":"g","type":"quantitative","scale":{"domain":[-16.275,16.178],"nice":false,"zero":false}},"y":{"datum":-1.5,"type":"quantitative","scale":{"domain":[-2.0313,2.4219],"nice":false,"zero":false}},"y2":{"datum":2.0}}},
    {"data":{"values":[{"g":-1.5},{"g":-1.0},{"g":-0.5},{"g":0},{"g":0.5},{"g":1.0},{"g":1.5},{"g":2.0}]},"mark":{"type":"rule","color":"#20f020","strokeWidth":2},
     "encoding":{"y":{"field":"g","type":"quantitative","scale":{"domain":[-2.0313,2.4219],"nice":false,"zero":false}},"x":{"datum":-12,"type":"quantitative","scale":{"domain":[-16.275,16.178],"nice":false,"zero":false}},"x2":{"datum":12}}},
    {"data":{"values":[{"g":0}]},"mark":{"type":"rule","color":"#000000","strokeWidth":1.5},
     "encoding":{"x":{"field":"g","type":"quantitative","scale":{"domain":[-16.275,16.178],"nice":false,"zero":false}},"y":{"datum":-1.5,"type":"quantitative","scale":{"domain":[-2.0313,2.4219],"nice":false,"zero":false}},"y2":{"datum":2.0}}},
    {"data":{"values":[{"g":0}]},"mark":{"type":"rule","color":"#000000","strokeWidth":1.5},
     "encoding":{"y":{"field":"g","type":"quantitative","scale":{"domain":[-2.0313,2.4219],"nice":false,"zero":false}},"x":{"datum":-12,"type":"quantitative","scale":{"domain":[-16.275,16.178],"nice":false,"zero":false}},"x2":{"datum":12}}},
    {"data":{"values":[
      {"s":"incompressible","a":-12,"v":0.25},{"s":"incompressible","a":4,"v":-0.2448},{"s":"incompressible","a":12,"v":-0.48},
      {"s":"compressible","a":-12,"v":0.28},{"s":"compressible","a":4,"v":-0.285},{"s":"compressible","a":12,"v":-0.56}
     ]},
     "mark":{"type":"line","strokeWidth":1.5,"clip":true},
     "encoding":{"x":{"field":"a","type":"quantitative","scale":{"domain":[-16.275,16.178],"nice":false,"zero":false}},"y":{"field":"v","type":"quantitative","scale":{"domain":[-2.0313,2.4219],"nice":false,"zero":false}},"color":{"field":"s","type":"nominal","scale":{"domain":["incompressible","compressible","current","current-PG"],"range":["#0000ff","#ff00ff","#ff0000","#ff00ff"]}}}},
    {"data":{"values":[{"s":"current","a":4,"v":-0.2448},{"s":"current-PG","a":4,"v":-0.285}]},
     "mark":{"type":"point","shape":"circle","filled":false,"size":70,"strokeWidth":1.5,"opacity":1},
     "encoding":{"x":{"field":"a","type":"quantitative","scale":{"domain":[-16.275,16.178],"nice":false,"zero":false}},"y":{"field":"v","type":"quantitative","scale":{"domain":[-2.0313,2.4219],"nice":false,"zero":false}},"color":{"field":"s","type":"nominal","scale":{"domain":["incompressible","compressible","current","current-PG"],"range":["#0000ff","#ff00ff","#ff0000","#ff00ff"]}}}},
    {"data":{"values":[{"v":1.0,"label":"1.0"},{"v":0.0,"label":"0.0"},{"v":-1.0,"label":"-1.0"}]},
     "mark":{"type":"text","fontSize":14,"fontStyle":"italic","fontWeight":"bold","color":"#222222","align":"right","baseline":"middle","dx":-12},
     "encoding":{"x":{"datum":-12,"type":"quantitative","scale":{"domain":[-16.275,16.178],"nice":false,"zero":false}},"y":{"field":"v","type":"quantitative","scale":{"domain":[-2.0313,2.4219],"nice":false,"zero":false}},"text":{"field":"label"}}},
    {"data":{"values":[{"label":"CM"}]},
     "mark":{"type":"text","fontSize":14,"fontStyle":"italic","fontWeight":"bold","color":"#222222","align":"right","baseline":"middle","dx":-11},
     "encoding":{"x":{"datum":-12,"type":"quantitative","scale":{"domain":[-16.275,16.178],"nice":false,"zero":false}},"y":{"datum":1.64,"type":"quantitative","scale":{"domain":[-2.0313,2.4219],"nice":false,"zero":false}},"text":{"field":"label"}}},
    {"data":{"values":[{"v":-8,"label":"-8"},{"v":0,"label":"α"},{"v":8,"label":"8"}]},
     "mark":{"type":"text","fontSize":14,"fontStyle":"italic","fontWeight":"bold","color":"#222222","align":"left","baseline":"middle","dx":-3},
     "encoding":{"x":{"field":"v","type":"quantitative","scale":{"domain":[-16.275,16.178],"nice":false,"zero":false}},"y":{"datum":-1.8125,"type":"quantitative","scale":{"domain":[-2.0313,2.4219],"nice":false,"zero":false}},"text":{"field":"label"}}}
   ]}
 ]}
]
}
